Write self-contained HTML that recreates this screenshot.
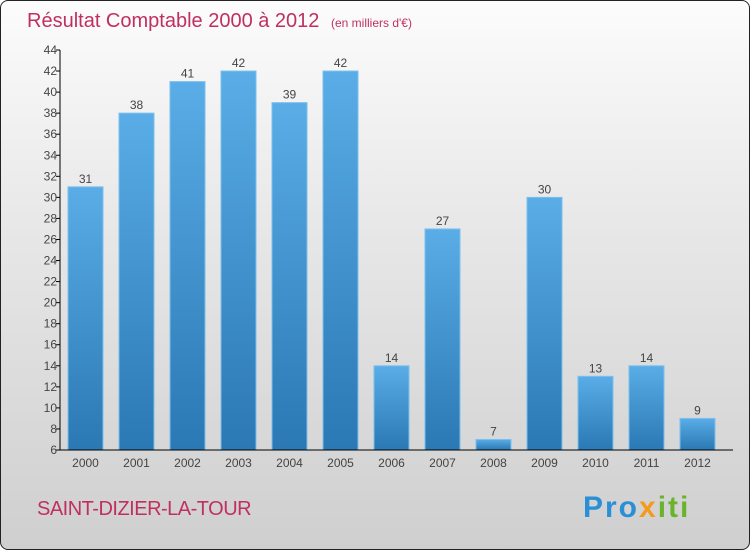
<!DOCTYPE html>
<html><head><meta charset="utf-8"><style>
body{margin:0}
#wrap{position:relative;width:748px;height:548px;border:1px solid #222;border-radius:8px;overflow:hidden;background:linear-gradient(#fcfcfc,#e8e8e8 40%,#cfcfcf);font-family:"Liberation Sans",sans-serif}
</style></head><body>
<div id="wrap">
<svg width="748" height="548" id="svg">
<defs><linearGradient id="bg" x1="0" y1="0" x2="0" y2="1"><stop offset="0" stop-color="#5aade6"/><stop offset="1" stop-color="#2a78b4"/></linearGradient></defs>
<text x="26" y="26" font-size="20" fill="#c0305e">Résultat Comptable 2000 à 2012 <tspan font-size="12" dx="6">(en milliers d'€)</tspan></text>
<text x="36" y="514" font-size="20" fill="#c0305e" letter-spacing="-0.5">SAINT-DIZIER-LA-TOUR</text>
<text x="582" y="516" font-size="30" font-weight="bold" letter-spacing="2"><tspan fill="#2a8fd6">Pro</tspan><tspan fill="#f39a1f">x</tspan><tspan fill="#6ab42d">iti</tspan></text>
<g id="g"></g>
</svg></div>
<script>
const categories=["2000","2001","2002","2003","2004","2005","2006","2007","2008","2009","2010","2011","2012"];
const values=[31,38,41,42,39,42,14,27,7,30,13,14,9];
const ticks=[6,8,10,12,14,16,18,20,22,24,26,28,30,32,34,36,38,40,42,44];
const x0=59,x1=722,yMin=6,yMax=44,yTop=49,yBot=449;
const y=v=>yBot-(v-yMin)/(yMax-yMin)*(yBot-yTop);
const bw=(x1-x0)/categories.length;
const g=document.getElementById('g');const NS="http://www.w3.org/2000/svg";
function mk(t,a){const e=document.createElementNS(NS,t);for(const k in a)e.setAttribute(k,a[k]);g.appendChild(e);return e;}
categories.forEach((c,i)=>{
 const bx=x0+i*bw+8,v=values[i];
 const r=mk('rect',{x:bx,y:y(v),width:35,height:yBot-y(v),fill:'url(#bg)',stroke:'#7cc0ee','stroke-width':1});
 
 
 const t=mk('text',{x:bx+17.5,y:y(v)-4,'font-size':12,fill:'#444','text-anchor':'middle'});t.textContent=v;
 
 
 const l=mk('text',{x:bx+17.5,y:466,'font-size':12,fill:'#444','text-anchor':'middle'});l.textContent=c;
 
 
});
ticks.forEach(v=>{
 mk('line',{x1:x0-4,x2:x0,y1:y(v),y2:y(v),stroke:'#000'});
 const t=mk('text',{x:x0-3,y:y(v)+4,'font-size':12,fill:'#444','text-anchor':'end'});t.textContent=v;
 
 
});
const ax=mk('line',{x1:x0,x2:x0,y1:yTop,y2:yBot,stroke:'#000'});


const bx=mk('line',{x1:x0,x2:x1+10,y1:yBot,y2:yBot,stroke:'#000'});


</script>
</body></html>
